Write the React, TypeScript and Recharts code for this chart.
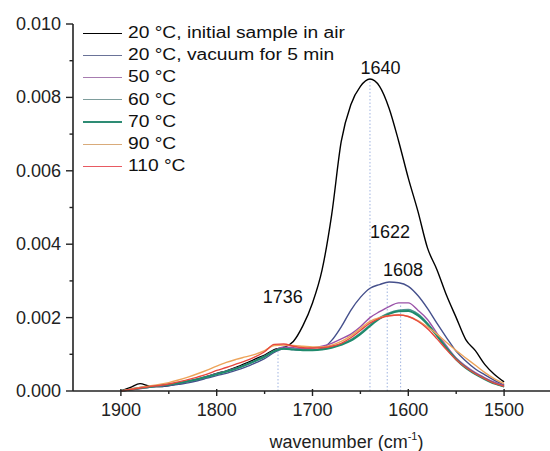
import { Legend, Line, LineChart, ReferenceDot, ReferenceLine, XAxis, YAxis } from 'recharts';

const FONT = '"Liberation Sans", Arial, Helvetica, sans-serif';

// wavenumber grid (cm-1), 1900 -> 1500
const wavenumbers = [
  1900, 1890, 1880, 1870, 1860, 1850, 1840, 1830, 1820, 1810, 1800, 1790, 1780, 1770, 1760, 1750, 1740, 1730, 1720, 1710, 1700,
  1690, 1680, 1670, 1660, 1650, 1640, 1630, 1620, 1610, 1600, 1590, 1580, 1570, 1560, 1550, 1540, 1530, 1520, 1510, 1500,
];

const initialAir = [
  0, 0.0001, 0.0002, 0.00013, 0.00012, 0.00015, 0.0002, 0.00026, 0.00032, 0.0004, 0.00048, 0.00055, 0.00064, 0.00075, 0.00087, 0.00098, 0.00113, 0.00119, 0.00135, 0.00178, 0.0024,
  0.0033, 0.0048, 0.0068, 0.0078, 0.0083, 0.0085, 0.0083, 0.0077, 0.0068, 0.0058, 0.0049, 0.0039, 0.0033, 0.0026, 0.002, 0.0014, 0.0011, 0.00072, 0.00045, 0.00025,
];
const vacuum5 = [
  0, 0.00005, 0.0001, 0.00012, 0.00012, 0.00014, 0.00018, 0.00022, 0.00028, 0.00035, 0.00042, 0.00048, 0.00056, 0.00065, 0.00076, 0.00088, 0.00105, 0.00115, 0.00113, 0.00112, 0.00111,
  0.00116, 0.00138, 0.00175, 0.0022, 0.00255, 0.0028, 0.0029, 0.00297, 0.00295, 0.00285, 0.0026, 0.00225, 0.00184, 0.00145, 0.00108, 0.00082, 0.0006, 0.00044, 0.00029, 0.00016,
];
const t50 = [
  0, 0.00003, 0.00006, 0.0001, 0.00014, 0.00018, 0.00022, 0.00027, 0.00033, 0.0004, 0.00047, 0.00054, 0.00062, 0.00072, 0.00083, 0.00095, 0.0011, 0.0012, 0.00118, 0.00115, 0.00117,
  0.00122, 0.0013, 0.00142, 0.00155, 0.00175, 0.002, 0.00216, 0.0023, 0.0024, 0.0024, 0.0022, 0.00195, 0.00157, 0.00122, 0.0009, 0.00068, 0.0005, 0.00036, 0.00024, 0.00015,
];
const t60 = [
  0, 0.00003, 0.00007, 0.00011, 0.00014, 0.00017, 0.00021, 0.00026, 0.00031, 0.00038, 0.00045, 0.00052, 0.0006, 0.0007, 0.00081, 0.00093, 0.00108, 0.00116, 0.00114, 0.00112, 0.00112,
  0.00114, 0.0012, 0.00128, 0.0014, 0.00158, 0.0018, 0.002, 0.00213, 0.0022, 0.00222, 0.0021, 0.00185, 0.00152, 0.00118, 0.00088, 0.00065, 0.00047, 0.00033, 0.00021, 0.00012,
];
const t70 = [
  0, 0.00004, 0.00008, 0.00011, 0.00015, 0.00018, 0.00022, 0.00027, 0.00032, 0.00039, 0.00046, 0.00053, 0.00061, 0.00071, 0.00082, 0.00094, 0.00109, 0.00115, 0.00113, 0.00111, 0.00111,
  0.00113, 0.00118, 0.00126, 0.00137, 0.00155, 0.00177, 0.00197, 0.0021, 0.00217, 0.00218, 0.00206, 0.00182, 0.0015, 0.00116, 0.00086, 0.00063, 0.00046, 0.00032, 0.0002, 0.00012,
];
const t90 = [
  0, 0.00005, 0.0001, 0.00014, 0.00018, 0.00023, 0.0003, 0.00038, 0.00047, 0.00057, 0.00068, 0.00078, 0.00086, 0.00093, 0.001, 0.0011, 0.00124, 0.00125, 0.00124, 0.00122, 0.0012,
  0.0012, 0.00125, 0.00135, 0.0015, 0.0017, 0.0019, 0.002, 0.00205, 0.00207, 0.00203, 0.00192, 0.00175, 0.00155, 0.00132, 0.0011, 0.0009, 0.0007, 0.0005, 0.00033, 0.0002,
];
const t110 = [
  0, 0.00004, 0.00008, 0.00012, 0.00015, 0.00019, 0.00025, 0.00031, 0.00038, 0.00046, 0.00056, 0.00064, 0.00073, 0.00082, 0.00093, 0.00107, 0.00127, 0.00128, 0.00122, 0.00118, 0.00117,
  0.00118, 0.00122, 0.0013, 0.00145, 0.00165, 0.00185, 0.00198, 0.00205, 0.00207, 0.00203, 0.0019, 0.0017, 0.00142, 0.00112, 0.00085, 0.00064, 0.00047, 0.00033, 0.00021, 0.00013,
];

const seriesNames = ['20 °C, initial sample in air', '20 °C, vacuum for 5 min', '50 °C', '60 °C', '70 °C', '90 °C', '110 °C'];
const seriesValues = [initialAir, vacuum5, t50, t60, t70, t90, t110];
const lineColors = ['#000000', '#45508c', '#9a52a8', '#4f9590', '#1f8a6c', '#eda45a', '#e8483e'];
const legendColors = ['#000000', '#6a7398', '#a77cb0', '#7e9d9c', '#2e8c74', '#d9ab7a', '#e85a62'];

// band positions marked with dotted lines: [wavenumber, height of the dotted line]
const markers = [
  [1736, 0.0011],
  [1640, 0.0085],
  [1622, 0.00296],
  [1608, 0.00238],
];
// peak labels: [text, x, y]
const peakLabels: [string, number, number][] = [
  ['1736', 1731, 0.00257],
  ['1640', 1629, 0.00881],
  ['1622', 1619, 0.00434],
  ['1608', 1605.5, 0.0033],
];

const xTicks = [1900, 1850, 1800, 1750, 1700, 1650, 1600, 1550, 1500];
const yTicks = [0, 0.001, 0.002, 0.003, 0.004, 0.005, 0.006, 0.007, 0.008, 0.009, 0.01];

const data = wavenumbers.map((wn, i) => {
  const row: Record<string, number> = { wn };
  seriesValues.forEach((vals, s) => {
    row[`s${s}`] = vals[i];
  });
  return row;
});

function XTick({ x, y, payload }: any) {
  const major = payload.value % 100 === 0;
  return (
    <g>
      <line x1={x} x2={x} y1={major ? y - 2 : y} y2={major ? y + 5 : y + 3} stroke="#222" strokeWidth={1.4} />
      {major && (
        <text x={x} y={y + 25} textAnchor="middle" fontSize={18} fontFamily={FONT} fill="#222">
          {payload.value}
        </text>
      )}
    </g>
  );
}

function YTick({ x, y, payload }: any) {
  const major = Math.round(payload.value * 1000) % 2 === 0;
  return (
    <g>
      <line x1={x} x2={major ? x - 7 : x - 3.5} y1={y} y2={y} stroke="#222" strokeWidth={1.4} />
      {major && (
        <text x={x - 12} y={y + 6} textAnchor="end" fontSize={18} fontFamily={FONT} fill="#222">
          {payload.value.toFixed(3)}
        </text>
      )}
    </g>
  );
}

function XTitle({ viewBox }: any) {
  const cx = viewBox.x + viewBox.width / 2 + 34;
  return (
    <text x={cx} y={viewBox.y + 57} textAnchor="middle" fontSize={18} fontFamily={FONT} fill="#222">
      wavenumber (cm
      <tspan fontSize={11} dy={-8}>-1</tspan>
      <tspan dy={8}>)</tspan>
    </text>
  );
}

function LegendBox() {
  return (
    <div style={{ fontFamily: FONT, fontSize: 16, color: '#111', width: 0, height: 0, overflow: 'visible' }}>
      {seriesNames.map((name, i) => (
        <div key={name} style={{ display: 'flex', alignItems: 'center', height: 22.2, width: 360 }}>
          <span
            style={{ display: 'inline-block', flexShrink: 0, width: 39, height: 0, borderTop: `${i === 4 ? 2.5 : 1.5}px solid ${legendColors[i]}` }}
          />
          <span style={{ marginLeft: 6, whiteSpace: 'nowrap', display: 'inline-block', transform: 'scaleX(1.2)', transformOrigin: 'left center' }}>
            {name}
          </span>
        </div>
      ))}
    </div>
  );
}

export default function App() {
  return (
    <div style={{ position: 'absolute', left: 0, top: 0, width: 550, height: 451, overflow: 'hidden', background: '#fff' }}>
      <LineChart width={560} height={451} data={data} margin={{ top: 24, right: 8, bottom: 0, left: 0 }}>
        <XAxis
          dataKey="wn"
          type="number"
          domain={[1450, 1950]}
          reversed
          ticks={xTicks}
          interval={0}
          tickSize={0}
          tickMargin={0}
          tickLine={false}
          tick={<XTick />}
          height={60}
          axisLine={{ stroke: '#222', strokeWidth: 1.6 }}
          label={<XTitle />}
        />
        <YAxis
          type="number"
          domain={[0, 0.01]}
          ticks={yTicks}
          interval={0}
          tickSize={0}
          tickMargin={0}
          tickLine={false}
          tick={<YTick />}
          width={73}
          axisLine={{ stroke: '#222', strokeWidth: 1.6 }}
        />
        {markers.map(([wn, top]) => (
          <ReferenceLine
            key={wn}
            segment={[
              { x: wn, y: 0 },
              { x: wn, y: top },
            ]}
            stroke="#9fb3e0"
            strokeDasharray="1.5 2"
            strokeWidth={1}
          />
        ))}
        {seriesValues.map((_, s) => (
          <Line
            key={s}
            dataKey={`s${s}`}
            name={seriesNames[s]}
            type="monotone"
            stroke={lineColors[s]}
            strokeWidth={s === 4 ? 2 : 1.4}
            dot={false}
            isAnimationActive={false}
          />
        ))}
        {peakLabels.map(([text, x, y]) => (
          <ReferenceDot
            key={text}
            x={x}
            y={y}
            r={0}
            fill="none"
            stroke="none"
            label={{ value: text, position: 'center', fontSize: 18, fontFamily: FONT, fill: '#111' }}
          />
        ))}
        <Legend
          layout="horizontal"
          verticalAlign="middle"
          align="left"
          content={<LegendBox />}
          wrapperStyle={{ top: 22, left: 83, width: 0, height: 0 }}
        />
      </LineChart>
    </div>
  );
}
